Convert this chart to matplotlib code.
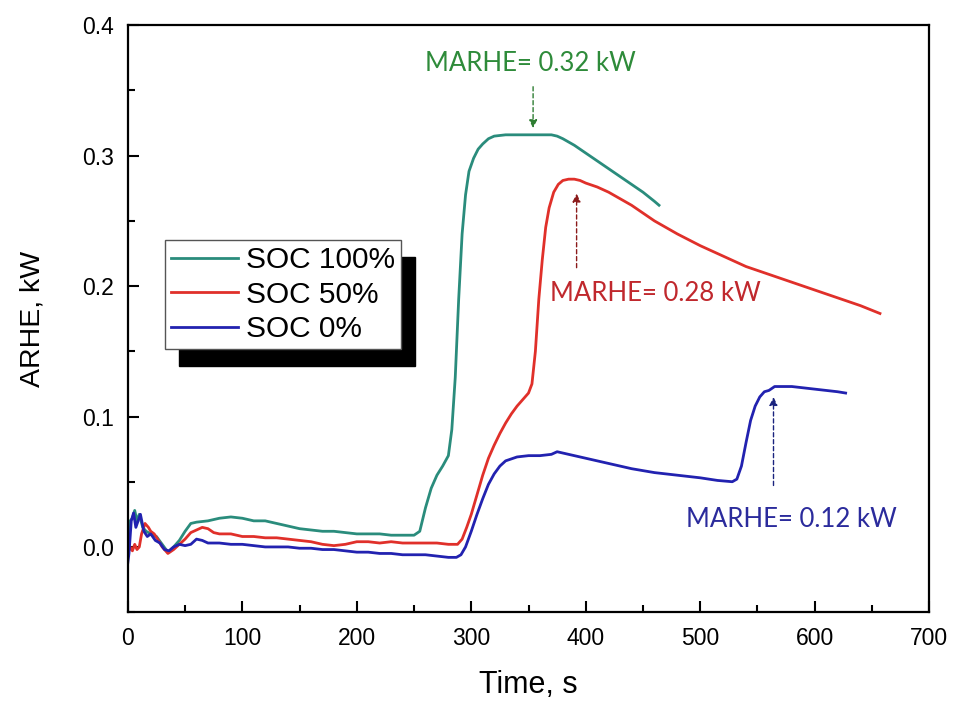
import numpy as np
from matplotlib import pyplot as plt
from matplotlib.ticker import MultipleLocator

plt.rcParams['font.family'] = ['Liberation Sans', 'DejaVu Sans']

# SOC 100%
t100_x = [0, 2, 4, 6, 8, 10, 13, 16, 20, 25,
          30, 35, 40, 45, 50, 55, 60, 70, 80, 90,
          100, 110, 120, 130, 140, 150, 160, 170, 180, 190,
          200, 210, 220, 230, 240, 250, 255, 260, 265, 270,
          275, 280, 283, 286, 289, 292, 295, 298, 302, 306,
          310, 315, 320, 330, 340, 350, 360, 370, 375, 380,
          390, 400, 410, 420, 430, 440, 450, 460, 464]
t100_y = [0.005, 0.02, 0.022, 0.028, 0.02, 0.025, 0.015, 0.012, 0.01, 0.008,
          0.002, -0.004, 0.0, 0.005, 0.012, 0.018, 0.019, 0.02, 0.022, 0.023,
          0.022, 0.02, 0.02, 0.018, 0.016, 0.014, 0.013, 0.012, 0.012, 0.011,
          0.01, 0.01, 0.01, 0.009, 0.009, 0.009, 0.012, 0.03, 0.045, 0.055,
          0.062, 0.07, 0.09, 0.13, 0.19, 0.24, 0.27, 0.288, 0.298, 0.305,
          0.309, 0.313, 0.315, 0.316, 0.316, 0.316, 0.316, 0.316, 0.315, 0.313,
          0.308, 0.302, 0.296, 0.29, 0.284, 0.278, 0.272, 0.265, 0.262]

# SOC 50%
t50_x = [0, 2, 4, 6, 8, 10, 12, 15, 18, 20,
         23, 26, 30, 35, 40, 45, 50, 55, 60, 65,
         70, 75, 80, 90, 100, 110, 120, 130, 140, 150,
         160, 170, 180, 190, 200, 210, 220, 230, 240, 250,
         260, 270, 280, 288, 292, 296, 300, 305, 310, 315,
         320, 325, 330, 335, 340, 345, 350, 353, 356, 359,
         362, 365, 368, 372, 376, 380, 385, 390, 395, 400,
         410, 420, 430, 440, 450, 460, 480, 500, 520, 540,
         560, 580, 600, 620, 640, 657]
t50_y = [-0.005, 0.0, -0.003, 0.002, -0.002, 0.0, 0.01, 0.018, 0.015, 0.012,
         0.01, 0.006, 0.0, -0.005, -0.002, 0.002, 0.006, 0.011, 0.013, 0.015,
         0.014, 0.011, 0.01, 0.01, 0.008, 0.008, 0.007, 0.007, 0.006, 0.005,
         0.004, 0.002, 0.001, 0.002, 0.004, 0.004, 0.003, 0.004, 0.003, 0.003,
         0.003, 0.003, 0.002, 0.002, 0.006, 0.015, 0.025, 0.04, 0.055, 0.068,
         0.078, 0.087, 0.095, 0.102, 0.108, 0.113, 0.118, 0.125, 0.15, 0.19,
         0.22, 0.245, 0.26, 0.272, 0.278, 0.281, 0.282, 0.282, 0.281, 0.279,
         0.276, 0.272, 0.267, 0.262, 0.256, 0.25, 0.24, 0.231, 0.223, 0.215,
         0.209, 0.203, 0.197, 0.191, 0.185, 0.179]

# SOC 0%
t0_x = [0, 1, 3, 5, 7, 9, 11, 14, 17, 20,
        24, 28, 32, 36, 40, 45, 50, 55, 60, 65,
        70, 80, 90, 100, 110, 120, 130, 140, 150, 160,
        170, 180, 190, 200, 210, 220, 230, 240, 250, 260,
        270, 280, 287, 291, 295, 300, 305, 310, 315, 320,
        325, 330, 340, 350, 360, 370, 375, 380, 390, 400,
        420, 440, 460, 480, 500, 515, 528, 532, 536, 540,
        544, 548, 552, 556, 560, 565, 570, 580, 590, 600,
        610, 620, 627]
t0_y = [-0.012, -0.005, 0.02, 0.026, 0.015, 0.02, 0.025, 0.012, 0.008, 0.01,
        0.005, 0.003, -0.002, -0.003, 0.0, 0.002, 0.001, 0.002, 0.006, 0.005,
        0.003, 0.003, 0.002, 0.002, 0.001, 0.0, 0.0, 0.0, -0.001, -0.001,
        -0.002, -0.002, -0.003, -0.004, -0.004, -0.005, -0.005, -0.006, -0.006, -0.006,
        -0.007, -0.008, -0.008, -0.006, 0.0, 0.012, 0.025, 0.037, 0.048, 0.056,
        0.062, 0.066, 0.069, 0.07, 0.07, 0.071, 0.073, 0.072, 0.07, 0.068,
        0.064, 0.06, 0.057, 0.055, 0.053, 0.051, 0.05, 0.052, 0.062, 0.08,
        0.097, 0.108, 0.115, 0.119, 0.12, 0.123, 0.123, 0.123, 0.122, 0.121,
        0.12, 0.119, 0.118]

fig = plt.figure(figsize=(9.54, 7.02), dpi=100)
ax = fig.add_axes([0.134, 0.128, 0.84, 0.836])

ax.plot(t100_x, t100_y, color='#2a8c7c', lw=2, label='SOC 100%')
ax.plot(t50_x, t50_y, color='#e0302a', lw=2, label='SOC 50%')
ax.plot(t0_x, t0_y, color='#2222b0', lw=2, label='SOC 0%')

ax.set_xlim(0, 700)
ax.set_ylim(-0.05, 0.4)
ax.xaxis.set_major_locator(MultipleLocator(100))
ax.xaxis.set_minor_locator(MultipleLocator(50))
ax.yaxis.set_major_locator(MultipleLocator(0.1))
ax.yaxis.set_minor_locator(MultipleLocator(0.05))
ax.tick_params(which='both', direction='in', width=1.5, labelsize=16.5)
ax.tick_params(which='major', length=8)
ax.tick_params(which='minor', length=5)
ax.tick_params(axis='y', pad=10)
ax.tick_params(axis='x', pad=11)
for s in ax.spines.values():
    s.set_linewidth(1.6)

ax.set_xlabel('Time, s', fontsize=22, labelpad=14)
ax.set_ylabel('ARHE, kW', fontsize=20.5, labelpad=26)

leg = ax.legend(loc='upper left', bbox_to_anchor=(0.046, 0.634), borderaxespad=0,
                fontsize=21.5, fancybox=False, edgecolor='#555555', framealpha=1,
                handlelength=2.25, handletextpad=0.28, labelspacing=0.22,
                borderpad=0.2,
                shadow={'color': 'black', 'alpha': 1, 'ox': 10, 'oy': -12})
leg.get_frame().set_linewidth(1)

afont = ['Lato', 'DejaVu Sans']
ax.annotate('', xy=(354, 0.319), xytext=(354, 0.355),
            arrowprops=dict(arrowstyle='-|>', linestyle=(0, (3, 2)), color='#2e7d32',
                            lw=1, mutation_scale=12))
ax.text(352, 0.371, 'MARHE= 0.32 kW', color='#2e8b3a', fontsize=18.5, family=afont,
        ha='center', va='center')

ax.annotate('', xy=(392, 0.273), xytext=(392, 0.212),
            arrowprops=dict(arrowstyle='-|>', linestyle=(0, (3, 2)), color='#8b1a1a',
                            lw=1, mutation_scale=12))
ax.text(461, 0.194, 'MARHE= 0.28 kW', color='#c0282d', fontsize=18.5, family=afont,
        ha='center', va='center')

ax.annotate('', xy=(564, 0.117), xytext=(564, 0.045),
            arrowprops=dict(arrowstyle='-|>', linestyle=(0, (3, 2)), color='#1a237e',
                            lw=1, mutation_scale=12))
ax.text(580, 0.021, 'MARHE= 0.12 kW', color='#2b2b9c', fontsize=18.5, family=afont,
        ha='center', va='center')

fig.savefig('out.png', dpi=100)
